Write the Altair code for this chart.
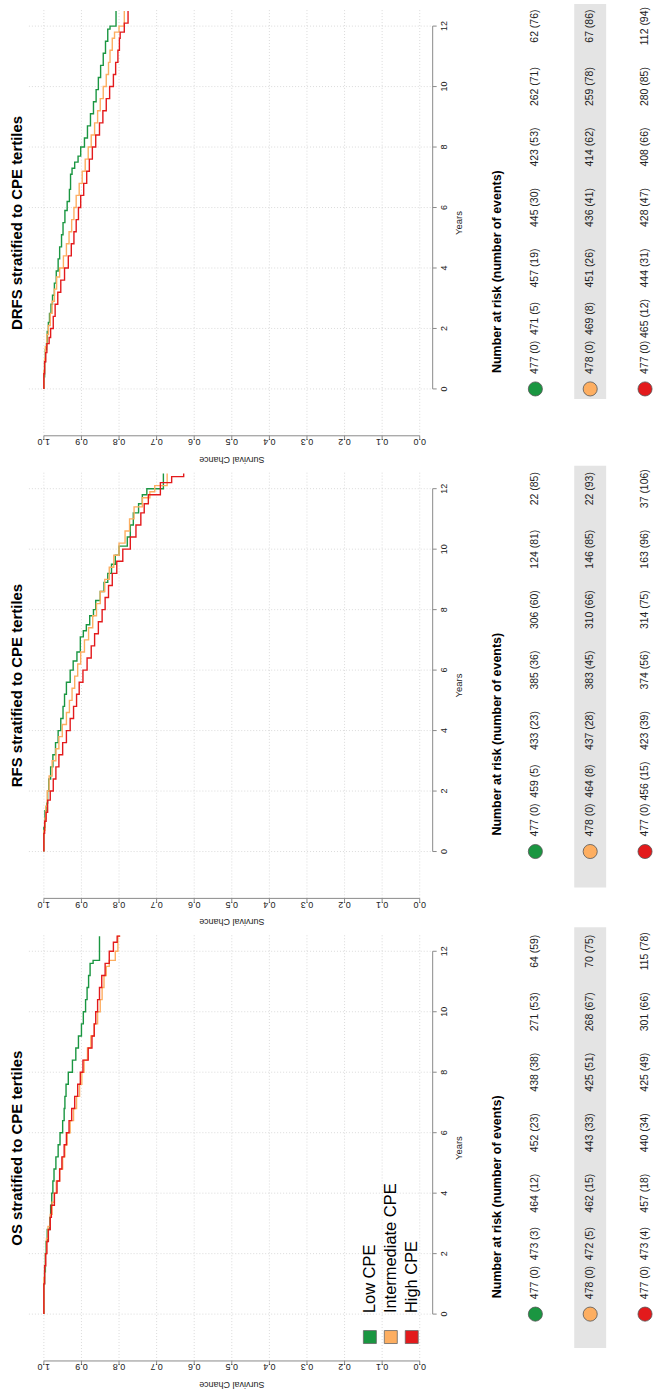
import altair as alt
import pandas as pd

FONT = "Liberation Sans"

groups = ["Low CPE", "Intermediate CPE", "High CPE"]
colors = ["#1A9641", "#FDAE61", "#E31A1C"]

panel_titles = ["DRFS stratified to CPE tertiles",
                "RFS stratified to CPE tertiles",
                "OS stratified to CPE tertiles"]

year_ticks = [0, 2, 4, 6, 8, 10, 12]
surv_ticks = [0.0, 0.1, 0.2, 0.3, 0.4, 0.5, 0.6, 0.7, 0.8, 0.9, 1.0]
surv_labels = ["0.0", "0.1", "0.2", "0.3", "0.4", "0.5", "0.6", "0.7", "0.8", "0.9", "1.0"]

# ---------------- Kaplan-Meier curves (time in years, survival) ----------------
drfs_low_t = [0, 0.4, 0.9, 1.3, 1.5, 1.9, 2.2, 2.5, 2.8, 3.1, 3.5, 3.9, 4.3, 4.7, 5.1, 5.5, 5.9, 6.2, 6.6, 7.1, 7.3, 7.5, 7.7, 8.0, 8.3, 8.7, 9.1, 9.5, 9.9, 10.3, 10.7, 11.1, 11.5, 11.9, 12.0, 12.5]
drfs_low_s = [1.0, 0.998, 0.996, 0.993, 0.991, 0.988, 0.985, 0.981, 0.977, 0.972, 0.967, 0.962, 0.958, 0.953, 0.949, 0.944, 0.938, 0.932, 0.929, 0.925, 0.918, 0.909, 0.902, 0.892, 0.884, 0.876, 0.868, 0.861, 0.855, 0.849, 0.842, 0.836, 0.830, 0.824, 0.808, 0.808]
drfs_int_t = [0, 0.6, 1.0, 1.4, 1.8, 2.1, 2.5, 2.9, 3.3, 3.7, 4.0, 4.4, 4.8, 5.2, 5.6, 6.0, 6.4, 6.8, 7.2, 7.6, 8.0, 8.4, 8.8, 9.2, 9.6, 10.0, 10.4, 10.8, 11.2, 11.6, 11.8, 12.0, 12.5]
drfs_int_s = [1.0, 0.998, 0.996, 0.992, 0.988, 0.983, 0.978, 0.972, 0.966, 0.958, 0.948, 0.940, 0.933, 0.926, 0.920, 0.914, 0.906, 0.898, 0.890, 0.882, 0.874, 0.865, 0.857, 0.850, 0.842, 0.834, 0.828, 0.824, 0.818, 0.812, 0.800, 0.786, 0.786]
drfs_high_t = [0, 0.5, 0.9, 1.2, 1.5, 1.7, 2.0, 2.4, 2.8, 3.2, 3.6, 4.0, 4.4, 4.8, 5.2, 5.6, 6.0, 6.4, 6.8, 7.2, 7.6, 8.0, 8.4, 8.8, 9.2, 9.6, 10.0, 10.4, 10.8, 11.2, 11.6, 11.8, 12.1, 12.5]
drfs_high_s = [1.0, 0.998, 0.995, 0.992, 0.986, 0.982, 0.975, 0.970, 0.963, 0.955, 0.945, 0.935, 0.927, 0.920, 0.914, 0.908, 0.902, 0.894, 0.886, 0.879, 0.871, 0.862, 0.852, 0.843, 0.834, 0.825, 0.815, 0.809, 0.803, 0.799, 0.797, 0.786, 0.776, 0.776]

rfs_low_t = [0, 0.8, 1.35, 1.6, 2.0, 2.4, 2.8, 3.2, 3.6, 4.0, 4.4, 4.8, 5.2, 5.6, 6.0, 6.3, 6.6, 7.1, 7.3, 7.5, 7.8, 8.0, 8.3, 8.6, 8.9, 9.2, 9.5, 9.8, 10.1, 10.4, 10.8, 11.2, 11.5, 11.8, 12.0, 12.5]
rfs_low_s = [1.0, 0.997, 0.992, 0.990, 0.987, 0.982, 0.976, 0.969, 0.962, 0.955, 0.949, 0.945, 0.940, 0.930, 0.922, 0.912, 0.903, 0.895, 0.887, 0.878, 0.868, 0.862, 0.850, 0.840, 0.830, 0.820, 0.810, 0.800, 0.778, 0.770, 0.762, 0.748, 0.738, 0.726, 0.682, 0.682]
rfs_int_t = [0, 0.7, 1.1, 1.5, 2.0, 2.5, 3.0, 3.4, 3.8, 4.2, 4.6, 5.0, 5.4, 5.8, 6.2, 6.6, 7.0, 7.4, 7.8, 8.2, 8.6, 9.0, 9.4, 9.8, 10.2, 10.6, 11.0, 11.4, 11.7, 11.9, 12.1, 12.5]
rfs_int_s = [1.0, 0.997, 0.995, 0.991, 0.986, 0.978, 0.968, 0.960, 0.951, 0.940, 0.932, 0.925, 0.918, 0.910, 0.902, 0.892, 0.881, 0.870, 0.860, 0.850, 0.838, 0.826, 0.814, 0.800, 0.784, 0.772, 0.760, 0.738, 0.718, 0.705, 0.672, 0.672]
rfs_high_t = [0, 0.6, 1.0, 1.3, 1.7, 2.0, 2.4, 2.8, 3.2, 3.6, 4.0, 4.4, 4.8, 5.2, 5.6, 6.0, 6.4, 6.8, 7.2, 7.6, 8.0, 8.4, 8.8, 9.2, 9.6, 10.0, 10.4, 10.8, 11.2, 11.5, 11.8, 12.2, 12.4, 12.5]
rfs_high_s = [1.0, 0.998, 0.994, 0.990, 0.983, 0.975, 0.968, 0.960, 0.950, 0.940, 0.930, 0.921, 0.913, 0.906, 0.896, 0.885, 0.874, 0.865, 0.855, 0.845, 0.837, 0.828, 0.818, 0.806, 0.790, 0.770, 0.755, 0.742, 0.733, 0.722, 0.690, 0.660, 0.628, 0.628]

os_low_t = [0, 1.0, 1.4, 2.0, 2.4, 2.8, 3.2, 3.6, 4.0, 4.4, 4.8, 5.2, 5.6, 6.0, 6.4, 6.8, 7.2, 7.6, 8.0, 8.4, 8.8, 9.2, 9.6, 10.0, 10.4, 10.8, 11.2, 11.6, 11.7, 12.5]
os_low_s = [1.0, 0.998, 0.996, 0.994, 0.991, 0.984, 0.982, 0.979, 0.976, 0.973, 0.968, 0.962, 0.957, 0.950, 0.946, 0.944, 0.941, 0.935, 0.924, 0.915, 0.908, 0.900, 0.895, 0.889, 0.885, 0.881, 0.877, 0.869, 0.852, 0.852]
os_int_t = [0, 1.2, 1.6, 2.0, 2.5, 2.9, 3.3, 3.7, 4.0, 4.4, 4.8, 5.2, 5.6, 6.0, 6.4, 6.8, 7.2, 7.6, 8.0, 8.4, 8.8, 9.2, 9.6, 10.0, 10.4, 10.8, 11.2, 11.5, 11.7, 12.0, 12.5]
os_int_s = [1.0, 0.998, 0.996, 0.993, 0.989, 0.983, 0.978, 0.972, 0.967, 0.958, 0.950, 0.944, 0.938, 0.930, 0.921, 0.913, 0.905, 0.899, 0.893, 0.884, 0.875, 0.866, 0.857, 0.850, 0.845, 0.840, 0.834, 0.826, 0.810, 0.803, 0.797]
os_high_t = [0, 1.0, 1.6, 2.0, 2.4, 2.8, 3.2, 3.6, 4.0, 4.4, 4.8, 5.2, 5.6, 6.0, 6.4, 6.8, 7.2, 7.6, 8.0, 8.4, 8.8, 9.2, 9.6, 10.0, 10.4, 10.8, 11.2, 11.6, 12.0, 12.3, 12.5]
os_high_s = [1.0, 0.998, 0.995, 0.992, 0.988, 0.983, 0.980, 0.972, 0.965, 0.958, 0.952, 0.946, 0.940, 0.933, 0.926, 0.918, 0.910, 0.903, 0.896, 0.882, 0.872, 0.866, 0.862, 0.857, 0.852, 0.846, 0.837, 0.826, 0.815, 0.805, 0.797]

# ---------------- Number at risk (number of events) ----------------
drfs_risk_low = [477, 471, 457, 445, 423, 262, 62]
drfs_evt_low = [0, 5, 19, 30, 53, 71, 76]
drfs_risk_int = [478, 469, 451, 436, 414, 259, 67]
drfs_evt_int = [0, 8, 26, 41, 62, 78, 86]
drfs_risk_high = [477, 465, 444, 428, 408, 280, 112]
drfs_evt_high = [0, 12, 31, 47, 66, 85, 94]

rfs_risk_low = [477, 459, 433, 385, 306, 124, 22]
rfs_evt_low = [0, 5, 23, 36, 60, 81, 85]
rfs_risk_int = [478, 464, 437, 383, 310, 146, 22]
rfs_evt_int = [0, 8, 28, 45, 66, 85, 93]
rfs_risk_high = [477, 456, 423, 374, 314, 163, 37]
rfs_evt_high = [0, 15, 39, 56, 75, 96, 106]

os_risk_low = [477, 473, 464, 452, 438, 271, 64]
os_evt_low = [0, 3, 12, 23, 38, 53, 59]
os_risk_int = [478, 472, 462, 443, 425, 268, 70]
os_evt_int = [0, 5, 15, 33, 51, 67, 75]
os_risk_high = [477, 473, 457, 440, 425, 301, 115]
os_evt_high = [0, 4, 18, 34, 49, 66, 78]

panels = [
    dict(title=panel_titles[0],
         curves=[(drfs_low_t, drfs_low_s), (drfs_int_t, drfs_int_s), (drfs_high_t, drfs_high_s)],
         risk=[(drfs_risk_low, drfs_evt_low), (drfs_risk_int, drfs_evt_int), (drfs_risk_high, drfs_evt_high)],
         band=(2, 398), legend=False),
    dict(title=panel_titles[1],
         curves=[(rfs_low_t, rfs_low_s), (rfs_int_t, rfs_int_s), (rfs_high_t, rfs_high_s)],
         risk=[(rfs_risk_low, rfs_evt_low), (rfs_risk_int, rfs_evt_int), (rfs_risk_high, rfs_evt_high)],
         band=(1, 424), legend=False),
    dict(title=panel_titles[2],
         curves=[(os_low_t, os_low_s), (os_int_t, os_int_s), (os_high_t, os_high_s)],
         risk=[(os_risk_low, os_evt_low), (os_risk_int, os_evt_int), (os_risk_high, os_evt_high)],
         band=(0, 422), legend=True),
]

# ---------------- layout (pixels inside each 654 x 464 panel) ----------------
W, H = 654, 464
xs = alt.Scale(domain=[-0.618, 1.1167], reverse=True, zero=False, nice=False)
ys = alt.Scale(domain=[-2.506, 12.793], zero=False, nice=False)
PLOT_L, PLOT_R, PLOT_T, PLOT_B = 29, 434, 8, 435
ROW_X = [537, 592, 647]
LEG_X = [371, 392, 413]
AXIS_C = "#8a8a8a"
GRID_C = "#d2d2d2"
TXT_C = "#222222"


def X(f):
    return alt.X(f, type="quantitative", scale=xs, axis=None)


def Y(f):
    return alt.Y(f, type="quantitative", scale=ys, axis=None)


def make_panel(p):
    layers = []
    one = pd.DataFrame({"k": [0]})
    # grey band behind the second at-risk row
    layers.append(alt.Chart(one).mark_rect(color="#e4e4e4").encode(
        x=alt.value(576), x2=alt.value(608), y=alt.value(p["band"][0]), y2=alt.value(p["band"][1])))
    sdf = pd.DataFrame({"s": surv_ticks, "lab": surv_labels})
    ydf = pd.DataFrame({"t": year_ticks, "lab": [str(v) for v in year_ticks]})
    # grid
    layers.append(alt.Chart(sdf).mark_rule(color=GRID_C, strokeDash=[1, 2], strokeWidth=0.8).encode(
        x=X("s"), y=alt.value(PLOT_T), y2=alt.value(PLOT_B)))
    layers.append(alt.Chart(ydf).mark_rule(color=GRID_C, strokeDash=[1, 2], strokeWidth=0.8).encode(
        y=Y("t"), x=alt.value(PLOT_L), x2=alt.value(PLOT_R)))
    # survival axis
    sax = pd.DataFrame({"a": [max(surv_ticks)], "b": [min(surv_ticks)]})
    layers.append(alt.Chart(sax).mark_rule(color=AXIS_C, strokeWidth=1).encode(
        x=X("a"), x2="b", y=alt.value(PLOT_B)))
    layers.append(alt.Chart(sdf).mark_rule(color=AXIS_C, strokeWidth=1).encode(
        x=X("s"), y=alt.value(PLOT_B), y2=alt.value(PLOT_B + 4)))
    layers.append(alt.Chart(sdf).mark_text(angle=180, align="center", baseline="alphabetic",
                                           font=FONT, fontSize=9, color=TXT_C).encode(
        x=X("s"), y=alt.value(PLOT_B + 3.5), text="lab:N"))
    smid = pd.DataFrame({"s": [(max(surv_ticks) + min(surv_ticks)) / 2], "lab": ["Survival Chance"]})
    layers.append(alt.Chart(smid).mark_text(angle=180, align="center", baseline="alphabetic",
                                            font=FONT, fontSize=9, color=TXT_C).encode(
        x=X("s"), y=alt.value(456), text="lab:N"))
    # years axis
    yax = pd.DataFrame({"a": [min(year_ticks)], "b": [max(year_ticks)]})
    layers.append(alt.Chart(yax).mark_rule(color=AXIS_C, strokeWidth=1).encode(
        y=Y("a"), y2="b", x=alt.value(PLOT_R)))
    layers.append(alt.Chart(ydf).mark_rule(color=AXIS_C, strokeWidth=1).encode(
        y=Y("t"), x=alt.value(PLOT_R), x2=alt.value(PLOT_R + 4)))
    layers.append(alt.Chart(ydf).mark_text(angle=270, align="center", baseline="alphabetic",
                                           font=FONT, fontSize=9, color=TXT_C).encode(
        y=Y("t"), x=alt.value(448), text="lab:N"))
    layers.append(alt.Chart(pd.DataFrame({"lab": ["Years"]})).mark_text(
        angle=270, align="center", baseline="alphabetic", font=FONT, fontSize=9.5, color=TXT_C).encode(
        x=alt.value(463), y=alt.value((PLOT_T + PLOT_B) / 2), text="lab:N"))
    # panel title
    layers.append(alt.Chart(pd.DataFrame({"lab": [p["title"]]})).mark_text(
        angle=270, align="center", baseline="alphabetic", font=FONT, fontSize=15,
        fontWeight="bold", color="#000").encode(
        x=alt.value(22), y=alt.value((PLOT_T + PLOT_B) / 2), text="lab:N"))
    # KM curves
    rows = []
    for g, (tt, ss) in zip(groups, p["curves"]):
        for t, s in zip(tt, ss):
            rows.append({"group": g, "t": t, "s": s})
    cdf = pd.DataFrame(rows)
    layers.append(alt.Chart(cdf).mark_line(interpolate="step-before", strokeWidth=1.4).encode(
        x=X("s"), y=Y("t"),
        color=alt.Color("group:N", scale=alt.Scale(domain=groups, range=colors), legend=None),
        order=alt.Order("t:Q")))
    # number at risk table
    layers.append(alt.Chart(pd.DataFrame({"lab": ["Number at risk (number of events)"]})).mark_text(
        angle=270, align="left", baseline="alphabetic", font=FONT, fontSize=12.5,
        fontWeight="bold", color="#000").encode(
        x=alt.value(503), y=alt.value(372), text="lab:N"))
    for i, (g, (nr, ne)) in enumerate(zip(groups, p["risk"])):
        rdf = pd.DataFrame({"t": year_ticks,
                            "lab": [f"{a} ({b})" for a, b in zip(nr, ne)]})
        layers.append(alt.Chart(pd.DataFrame({"t": [year_ticks[0]]})).mark_circle(
            size=200, opacity=1, color=colors[i], stroke="#555555", strokeWidth=0.8).encode(
            x=alt.value(ROW_X[i]), y=Y("t")))
        base = alt.Chart(rdf)
        kw = dict(angle=270, baseline="middle", font=FONT, fontSize=10.5, color=TXT_C)
        layers.append(base.transform_filter(alt.datum.t == year_ticks[0]).mark_text(
            align="left", dx=15, **kw).encode(x=alt.value(ROW_X[i]), y=Y("t"), text="lab:N"))
        layers.append(base.transform_filter(alt.datum.t == year_ticks[1]).mark_text(
            align="center", dx=10, **kw).encode(x=alt.value(ROW_X[i]), y=Y("t"), text="lab:N"))
        layers.append(base.transform_filter(alt.datum.t > year_ticks[1]).mark_text(
            align="center", **kw).encode(x=alt.value(ROW_X[i]), y=Y("t"), text="lab:N"))
    # legend
    if p["legend"]:
        for i, g in enumerate(groups):
            gdf = pd.DataFrame({"g": [g]})
            layers.append(alt.Chart(gdf).mark_square(size=169, opacity=1, color=colors[i],
                                                     stroke="#666666", strokeWidth=0.8).encode(
                x=alt.value(LEG_X[i]), y=alt.value(411)))
            layers.append(alt.Chart(gdf).mark_text(angle=270, align="left", baseline="middle",
                                                   font=FONT, fontSize=16.5, color="#000").encode(
                x=alt.value(LEG_X[i]), y=alt.value(387), text="g:N"))
    return alt.layer(*layers).properties(width=W, height=H)


chart = alt.vconcat(*[make_panel(p) for p in panels], spacing=0, bounds="flush").properties(
    padding=0).configure_view(stroke=None)

chart.save("out.html", embed_options={"renderer": "svg", "actions": False})
